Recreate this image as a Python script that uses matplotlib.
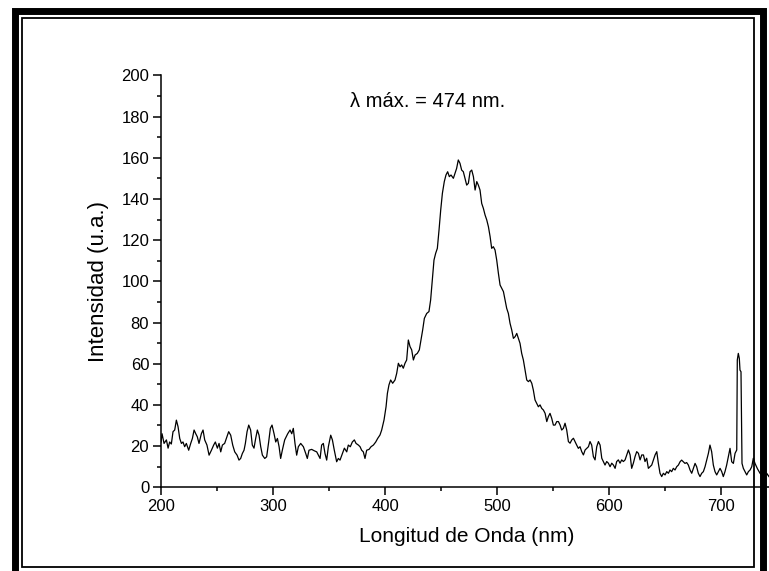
import matplotlib
matplotlib.use("Agg")
import matplotlib.pyplot as plt
from matplotlib.patches import Rectangle
from matplotlib.ticker import MultipleLocator

plt.rcParams["font.family"] = ["Liberation Sans", "DejaVu Sans"]

# emission spectrum (nm, a.u.)
wavelength = [
    200.0, 200.9, 202.7, 204.8, 206.3, 207.7, 209.2, 210.7, 212.2, 213.7, 215.2,
    216.7, 218.2, 219.6, 221.1, 222.6, 224.7, 226.5, 228.0, 229.5, 231.0,
    232.4, 233.9, 236.0, 237.5, 239.0, 241.0, 242.9, 245.0, 247.0, 248.5,
    250.3, 251.8, 253.3, 254.8, 256.8, 258.3, 260.4, 262.2, 264.0, 265.8,
    267.9, 269.6, 271.1, 272.6, 274.1, 275.3, 276.8, 278.3, 280.0, 281.5,
    283.0, 284.5, 286.0, 287.5, 289.0, 290.5, 292.6, 294.3, 296.1, 297.6,
    299.1, 300.9, 302.4, 303.9, 305.4, 306.8, 308.3, 310.4, 313.1, 315.2,
    316.7, 318.1, 319.6, 321.1, 322.6, 324.7, 327.1, 329.2, 330.6, 332.1,
    334.5, 336.9, 339.0, 340.5, 342.0, 343.4, 344.9, 346.4, 347.9, 349.4,
    351.5, 353.0, 354.7, 356.8, 358.3, 359.8, 361.9, 363.7, 365.8, 367.2,
    369.0, 370.8, 372.6, 374.1, 376.2, 377.7, 379.1, 380.6, 382.1, 383.6,
    385.7, 387.5, 389.6, 391.7, 393.4, 395.5, 397.0, 399.1, 400.9, 402.1,
    403.5, 405.0, 406.8, 408.9, 410.4, 411.9, 413.4, 414.8, 416.3, 417.8,
    419.3, 420.8, 422.3, 423.8, 425.3, 426.8, 428.8, 430.6, 432.1, 433.6,
    435.1, 437.2, 439.2, 440.7, 442.2, 443.7, 445.2, 446.7, 448.2, 449.7,
    451.2, 452.9, 454.4, 455.9, 457.4, 458.9, 461.0, 462.5, 463.9, 465.4,
    466.9, 468.4, 469.9, 471.4, 472.9, 474.4, 475.9, 477.4, 478.9, 480.4,
    481.9, 483.3, 484.8, 486.3, 487.8, 489.3, 490.8, 492.3, 493.8, 495.2,
    496.7, 498.2, 499.7, 501.2, 502.7, 504.2, 505.7, 507.2, 508.6, 510.1,
    511.6, 513.1, 514.6, 516.1, 517.6, 519.1, 520.5, 522.0, 523.5, 525.0,
    526.5, 528.0, 529.5, 531.0, 532.4, 533.9, 535.4, 536.9, 538.4, 539.9,
    541.4, 542.9, 544.4, 545.8, 547.3, 548.8, 550.3, 551.8, 553.3, 554.8,
    556.3, 557.7, 559.2, 560.7, 562.2, 563.7, 565.2, 566.7, 568.2, 569.6,
    571.1, 572.6, 574.1, 575.6, 577.1, 578.6, 580.1, 581.6, 583.0, 584.5,
    586.0, 587.5, 589.0, 590.5, 592.0, 593.5, 594.9, 596.4, 597.9, 599.4,
    600.9, 602.4, 603.9, 605.4, 606.8, 608.3, 609.8, 611.3, 612.8, 614.3,
    615.8, 617.3, 618.8, 620.2, 621.7, 623.2, 624.7, 626.2, 627.7, 629.2,
    630.7, 632.1, 633.6, 635.1, 636.6, 638.1, 639.6, 641.1, 642.6, 644.0,
    645.5, 647.0, 648.5, 650.0, 651.5, 653.0, 654.4, 655.9, 657.4, 658.9,
    660.4, 661.9, 663.4, 664.8, 666.3, 667.8, 669.3, 670.8, 672.3, 673.8,
    675.3, 676.8, 678.2, 679.7, 681.2, 682.7, 684.2, 685.7, 687.2, 688.7,
    690.1, 691.6, 693.1, 694.6, 696.1, 697.6, 699.1, 700.6, 702.0, 703.5,
    705.0, 706.5, 708.0, 709.5, 711.0, 712.5, 714.0, 714.5, 715.4, 716.3,
    716.9, 717.8, 718.7, 719.9, 721.4, 722.9, 724.4, 725.9, 727.4, 728.8,
    730.3, 732.5, 734.8, 737.8, 740.7, 742.8,
]
intensity = [
    22.0, 26.0, 21.3, 23.0, 19.0, 22.0, 21.0, 27.0, 27.8, 32.6, 29.4,
    23.7, 21.3, 22.0, 19.7, 21.3, 18.0, 21.3, 23.7, 27.8, 26.0,
    24.5, 21.3, 26.0, 27.8, 23.0, 20.5, 15.6, 18.0, 20.5, 22.0,
    19.0, 21.3, 17.2, 20.5, 21.3, 23.7, 27.0, 25.3, 20.5, 17.2,
    15.6, 13.2, 14.0, 16.4, 18.0, 21.3, 27.0, 30.2, 27.8, 20.5,
    19.0, 23.7, 27.8, 25.3, 19.7, 15.6, 14.0, 14.8, 22.0, 28.6,
    30.2, 26.0, 22.0, 23.7, 19.7, 14.0, 18.0, 23.0, 26.0, 27.8,
    26.0, 28.6, 21.3, 15.6, 19.7, 21.3, 19.7, 16.4, 14.0, 18.0,
    18.4, 17.7, 17.2, 15.6, 14.0, 20.5, 21.3, 16.4, 13.2, 19.7,
    25.3, 23.0, 18.0, 12.4, 14.0, 13.2, 16.4, 19.0, 17.2, 20.5,
    19.7, 22.0, 23.0, 21.3, 20.5, 19.7, 18.0, 17.2, 14.0, 18.0,
    18.4, 19.7, 20.5, 22.0, 23.7, 25.4, 27.8, 32.7, 39.1, 45.6,
    49.7, 52.1, 50.5, 52.1, 55.3, 60.2, 58.5, 59.4, 57.8, 60.2,
    61.8, 71.5, 68.3, 66.7, 61.8, 64.2, 65.0, 66.7, 71.5, 76.4,
    82.0, 84.4, 85.3, 90.9, 100.6, 110.3, 113.6, 116.0, 124.9, 134.6,
    142.7, 148.4, 151.6, 153.2, 150.8, 151.6, 150.0, 152.4, 154.8, 158.9,
    157.3, 154.0, 153.2, 150.0, 146.7, 147.6, 153.2, 154.0, 150.8, 144.3,
    148.4, 146.7, 144.3, 137.8, 135.4, 132.2, 129.8, 126.5, 121.7, 116.0,
    116.8, 115.2, 110.3, 103.9, 98.2, 96.6, 95.0, 90.9, 86.9, 84.4,
    79.6, 76.4, 72.3, 73.1, 74.7, 72.3, 69.9, 65.0, 61.8, 56.9,
    52.1, 51.3, 52.1, 50.5, 47.2, 42.4, 40.8, 39.1, 40.0, 38.3,
    37.5, 35.9, 31.9, 34.3, 35.9, 33.5, 30.2, 30.2, 31.9, 31.9,
    30.2, 27.8, 28.6, 31.1, 27.8, 22.2, 21.4, 23.0, 23.8, 22.2,
    20.5, 18.9, 19.7, 17.3, 15.7, 18.1, 18.9, 19.7, 22.2, 20.5,
    14.9, 13.3, 19.7, 22.2, 20.5, 14.1, 12.5, 10.8, 12.5, 11.7,
    10.0, 11.7, 10.8, 9.2, 12.5, 13.3, 11.7, 13.3, 12.5, 13.3,
    15.7, 18.1, 15.7, 9.2, 11.7, 14.9, 17.3, 16.5, 13.3, 15.7,
    15.7, 12.5, 14.1, 9.2, 10.0, 10.8, 13.3, 15.7, 17.3, 11.7,
    6.8, 5.2, 6.8, 6.0, 7.6, 6.8, 8.4, 7.6, 9.2, 8.4,
    10.0, 10.8, 12.4, 13.2, 12.4, 11.6, 12.0, 10.8, 8.4, 6.8,
    9.2, 11.6, 10.0, 6.8, 5.2, 6.8, 7.6, 10.0, 13.2, 16.5,
    20.5, 17.3, 10.8, 7.6, 6.0, 7.6, 9.2, 7.6, 5.2, 7.6,
    10.8, 14.9, 18.9, 12.4, 11.6, 16.5, 18.1, 61.8, 65.0, 62.6,
    56.9, 56.1, 11.6, 9.2, 7.6, 6.0, 7.6, 8.4, 10.0, 14.1,
    11.6, 9.0, 6.8, 5.2, 6.8, 5.2,
]

fig = plt.figure(figsize=(7.69, 5.71), dpi=100)
ax = fig.add_axes([0.2094, 0.1466, 0.7938, 0.7215])

ax.plot(wavelength, intensity, color="black", lw=0.9)

ax.set_xlim(200, 745)
ax.set_ylim(0, 200)
ax.xaxis.set_major_locator(MultipleLocator(100))
ax.xaxis.set_minor_locator(MultipleLocator(50))
ax.yaxis.set_major_locator(MultipleLocator(20))
ax.yaxis.set_minor_locator(MultipleLocator(10))

for side in ["top", "right"]:
    ax.spines[side].set_visible(False)
for side in ["left", "bottom"]:
    ax.spines[side].set_linewidth(1.1)

ax.tick_params(which="major", direction="out", length=5.5, width=1.1,
               labelsize=12, pad=3)
ax.tick_params(which="minor", direction="out", length=3, width=1.1)

ax.set_xlabel("Longitud de Onda (nm)", fontsize=15, labelpad=9)
ax.set_ylabel("Intensidad (u.a.)", fontsize=16, labelpad=9)

ax.text(438, 187.5, "λ máx. = 474 nm.", fontsize=14.5, ha="center", va="center")

# double frame around the figure
outer = Rectangle((14.5 / 769, -9 / 571), 748 / 769, 569.5 / 571,
                  transform=fig.transFigure, fill=False, ec="black",
                  lw=5.0, zorder=10)
inner = Rectangle((22 / 769, 4 / 571), 732 / 769, 549 / 571,
                  transform=fig.transFigure, fill=False, ec="black",
                  lw=1.3, zorder=10)
fig.add_artist(outer)
fig.add_artist(inner)

fig.savefig("out.png", dpi=100)
